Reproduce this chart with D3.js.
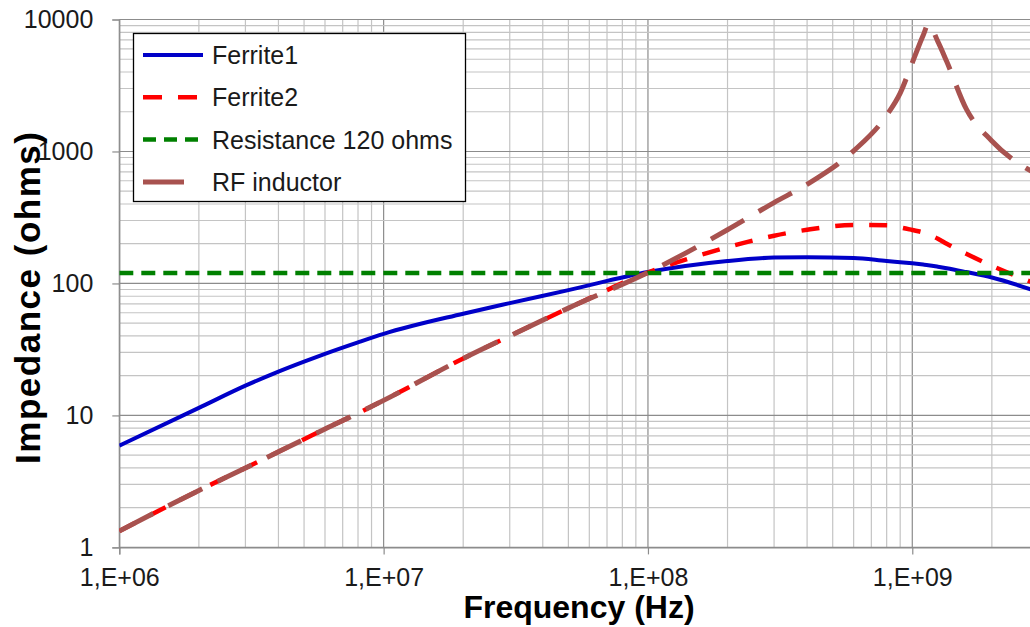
<!DOCTYPE html>
<html lang="en">
<head>
<meta charset="UTF-8">
<title>impedance</title>
<script src="https://d3js.org/d3.v7.min.js"></script>
<style>
  body { margin: 0; background: #fff; }
  text { font-family: "Liberation Sans", Arial, sans-serif; }
</style>
</head>
<body>
<script>
// frequencies (Hz) shared by every series
var freq = [1e6, 2e6, 3e6, 4e6, 5e6, 6e6, 8e6, 1e7, 2e7, 3e7, 5e7, 1e8, 2e8, 3e8, 4e8, 6e8, 8e8, 9e8,
            1e9, 1.1e9, 1.15e9, 1.25e9, 1.35e9, 1.6e9, 2e9, 3e9];

var ferrite1 = [5.9, 11.4, 16.8, 21.5, 25.6, 29.3, 35.8, 41.5, 59, 71, 89, 122, 148, 157, 158, 156, 148, 145,
                142, 139, 137.5, 134, 130.5, 122, 111, 86];
var ferrite2 = [1.33, 2.7, 4.0, 5.3, 6.6, 7.9, 10.4, 13, 27, 40, 65, 121, 188, 230, 255, 277, 276, 266,
                254, 243, 235, 218, 200, 168, 136, 98];
var resistance = [120, 120, 120, 120, 120, 120, 120, 120, 120, 120, 120, 120, 120, 120, 120, 120, 120, 120,
                  120, 120, 120, 120, 120, 120, 120, 120];
var rfInductor = [1.33, 2.7, 4.0, 5.3, 6.6, 7.9, 10.4, 13, 27, 40, 65, 121, 255, 410, 563, 1010, 1880, 2770,
                  4700, 7600, 9200, 6800, 4800, 2100, 1200, 660];

var seriesNames = ["Ferrite1", "Ferrite2", "Resistance 120 ohms", "RF inductor"];
var xTickValues = [1e6, 1e7, 1e8, 1e9];
var xTickLabels = ["1,E+06", "1,E+07", "1,E+08", "1,E+09"];
var yTickValues = [1, 10, 100, 1000, 10000];
var yTickLabels = ["1", "10", "100", "1000", "10000"];

var width = 1030, height = 627;
var pLeft = 119.3, pRight = 1038.4, pTop = 19.5, pBottom = 547.4;

var svg = d3.select("body").append("svg")
    .attr("width", width)
    .attr("height", height)
    .style("background", "#fff");

var x = d3.scaleLog().domain([1e6, 3e9]).range([pLeft, pRight]);
var y = d3.scaleLog().domain([1, 10000]).range([pBottom, pTop]);

var isMajor = function (d) { return Math.abs(Math.log10(d) - Math.round(Math.log10(d))) < 1e-9; };

// grid
var grid = svg.append("g");
var xg = x.ticks().filter(function (d) { return d < 3e9; });
var yg = y.ticks();
grid.selectAll(".gx").data(xg).enter().append("line")
    .attr("x1", function (d) { return x(d); })
    .attr("x2", function (d) { return x(d); })
    .attr("y1", pTop).attr("y2", pBottom)
    .attr("stroke", function (d) { return isMajor(d) ? "#8c8c8c" : "#c4c4c4"; })
    .attr("stroke-width", 1.2);
grid.selectAll(".gy").data(yg).enter().append("line")
    .attr("x1", pLeft).attr("x2", pRight)
    .attr("y1", function (d) { return y(d); })
    .attr("y2", function (d) { return y(d); })
    .attr("stroke", function (d) { return isMajor(d) ? "#8c8c8c" : "#c4c4c4"; })
    .attr("stroke-width", 1.2);

// axes
var xAxis = svg.append("g")
    .attr("transform", "translate(0," + pBottom + ")")
    .call(d3.axisBottom(x).tickValues(xTickValues).tickSize(7).tickPadding(14)
        .tickFormat(function (d, i) { return xTickLabels[i]; }));
var yAxis = svg.append("g")
    .attr("transform", "translate(" + pLeft + ",0)")
    .call(d3.axisLeft(y).tickValues(yTickValues).tickSize(7).tickPadding(19)
        .tickFormat(function (d, i) { return yTickLabels[i]; }));
[xAxis, yAxis].forEach(function (a) {
    a.select(".domain").attr("stroke", "#8c8c8c").attr("stroke-width", 1.2);
    a.selectAll(".tick line").attr("stroke", "#8c8c8c").attr("stroke-width", 1.2);
    a.selectAll("text")
        .attr("fill", "#1a1a1a")
        .style("font-size", "25px")
        .style("font-family", "'Liberation Sans', Arial, sans-serif");
});

// series
var series = [
    { name: seriesNames[0], values: ferrite1, color: "#0000c8", dash: null, w: 4 },
    { name: seriesNames[1], values: ferrite2, color: "#ff0000", dash: "18,16", w: 4.5 },
    { name: seriesNames[2], values: resistance, color: "#008000", dash: "14,8", w: 4.5 },
    { name: seriesNames[3], values: rfInductor, color: "#a8524f", dash: "38,17", w: 5 }
];

svg.append("clipPath").attr("id", "plot")
    .append("rect").attr("x", pLeft).attr("y", pTop - 2)
    .attr("width", pRight - pLeft).attr("height", pBottom - pTop + 2);

var plot = svg.append("g").attr("clip-path", "url(#plot)");
var line = d3.line()
    .x(function (d, i) { return x(freq[i]); })
    .y(function (d) { return y(d); })
    .curve(d3.curveMonotoneX);
series.forEach(function (s) {
    plot.append("path")
        .datum(s.values)
        .attr("d", line)
        .attr("fill", "none")
        .attr("stroke", s.color)
        .attr("stroke-width", s.w)
        .attr("stroke-dasharray", s.dash)
        .attr("stroke-linejoin", "round");
});

// legend
var legend = svg.append("g");
legend.append("rect")
    .attr("x", 133.5).attr("y", 33.5)
    .attr("width", 332).attr("height", 168)
    .attr("fill", "#fff").attr("stroke", "#000").attr("stroke-width", 1.3);
var legendDash = [null, "19,16", "13,8", "41,30"];
series.forEach(function (s, i) {
    var ly = 55 + i * 42.3;
    legend.append("line")
        .attr("x1", 143).attr("x2", 203)
        .attr("y1", ly).attr("y2", ly)
        .attr("stroke", s.color).attr("stroke-width", s.w)
        .attr("stroke-dasharray", legendDash[i]);
    legend.append("text")
        .attr("x", 212).attr("y", ly)
        .attr("dy", "0.36em")
        .attr("fill", "#1a1a1a")
        .style("font-size", "25px")
        .text(s.name);
});

// axis titles
svg.append("text")
    .attr("x", 579).attr("y", 618)
    .attr("text-anchor", "middle")
    .style("font-size", "32px").style("font-weight", "bold")
    .attr("fill", "#000")
    .text("Frequency (Hz)");
svg.append("text")
    .attr("transform", "translate(40,298) rotate(-90)")
    .attr("text-anchor", "middle")
    .attr("textLength", 332).attr("lengthAdjust", "spacing")
    .style("font-size", "35px").style("font-weight", "bold")
    .attr("fill", "#000")
    .text("Impedance (ohms)");
</script>
</body>
</html>
